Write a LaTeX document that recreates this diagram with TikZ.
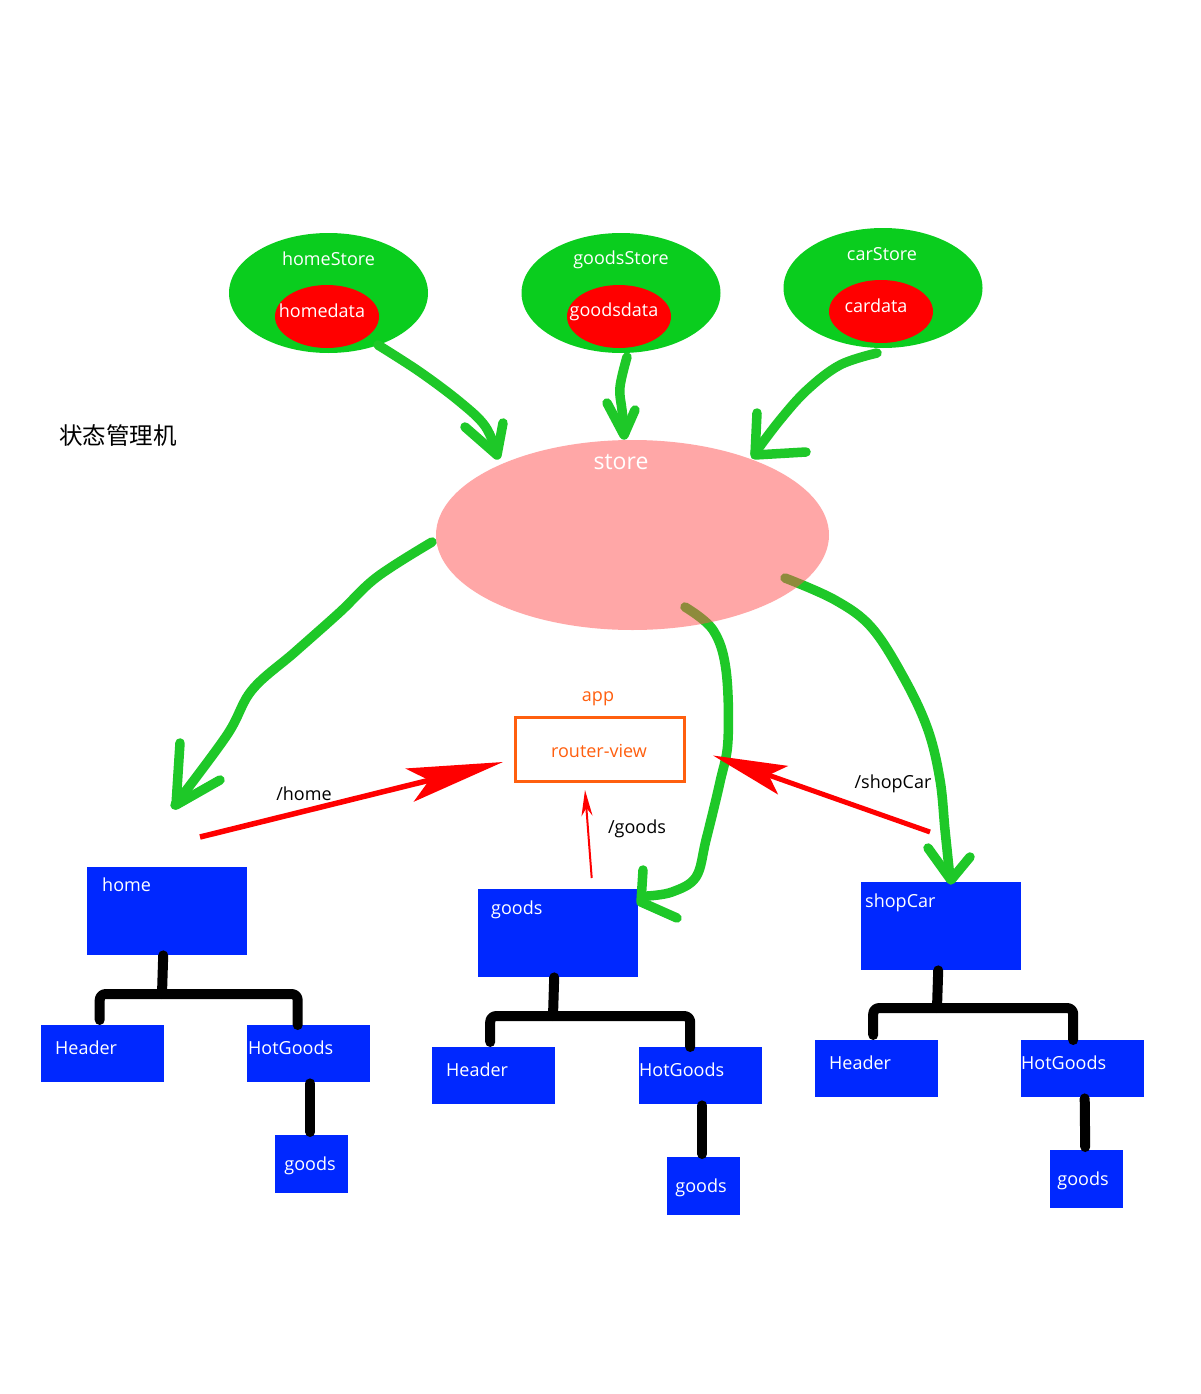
\documentclass[tikz,border=0pt]{standalone}
\usepackage{fontspec}
\setmainfont{Open Sans}
\newfontfamily\cjk{Noto Sans CJK SC}
\usetikzlibrary{shapes.geometric,arrows.meta}
\definecolor{gEll}{RGB}{10,205,30}
\definecolor{gArr}{RGB}{30,200,40}
\definecolor{bBox}{RGB}{0,40,255}
\definecolor{orng}{RGB}{255,95,15}
\definecolor{storeC}{RGB}{255,80,80}
\begin{document}
\begin{tikzpicture}[x=1pt,y=-1pt,
  txt/.style={font=\fontsize{18}{22}\selectfont, inner sep=0pt},
  wtxt/.style={txt, text=white},
  outerEll/.style={ellipse, fill=gEll, inner sep=0pt, minimum width=199pt, minimum height=120pt},
  dataEll/.style={ellipse, fill=red, inner sep=0pt, minimum width=104pt, minimum height=63pt},
  bluebox/.style={rectangle, fill=bBox, inner sep=0pt, anchor=north west},
  bigbox/.style={bluebox, minimum width=160pt, minimum height=88pt},
  midbox/.style={bluebox, minimum width=123pt, minimum height=57pt},
  smallbox/.style={bluebox, minimum width=73pt, minimum height=58pt},
  tree/.style={line width=10pt, line cap=round, line join=round, rounded corners=6pt, black},
  garr/.style={line width=9.5pt, draw=gArr, line cap=round, line join=round},
  rarr/.style={draw=red, line width=5.5pt},
]
\fill[white] (0,0) rectangle (1200,1394);
\useasboundingbox (0,0) rectangle (1200,1394);

% ---- stores ----
\node[outerEll] (hs) at (328.5,293) {};
\node[dataEll] (hd) at (327,316.5) {};
\node[wtxt] (hsT) at (328.5,259) {homeStore};
\node[wtxt] (hdT) at (322,311) {homedata};

\node[outerEll] (gs) at (621,293) {};
\node[dataEll] (gd) at (619,316.5) {};
\node[wtxt] (gsT) at (621,260) {goodsStore};
\node[wtxt] (gdT) at (614,312) {goodsdata};

\node[outerEll] (cs) at (883,288) {};
\node[dataEll] (cd) at (881,311.5) {};
\node[wtxt] (csT) at (882,254) {carStore};
\node[wtxt] (cdT) at (876,306) {cardata};

\node[font=\cjk\fontsize{23.5}{26}\selectfont, inner sep=0pt] (title) at (118,436) {状态管理机};

% ---- blue boxes ----
\node[bigbox] (home) at (87,867) {};
\node[midbox] (hdL) at (41,1025) {};
\node[midbox] (hotL) at (247,1025) {};
\node[smallbox] (gdL) at (275,1135) {};

\node[bigbox] (goodsM) at (478,889) {};
\node[midbox] (hdM) at (432,1047) {};
\node[midbox] (hotM) at (639,1047) {};
\node[smallbox] (gdM) at (667,1157) {};

\node[bigbox] (shop) at (861,882) {};
\node[midbox] (hdR) at (815,1040) {};
\node[midbox] (hotR) at (1021,1040) {};
\node[smallbox] (gdR) at (1050,1150) {};

% ---- green hand-drawn arrows ----
\draw[garr] plot[smooth, tension=0.6] coordinates {(378,345) (420,372) (460,402) (485,426) (497,453)};
\draw[garr] (465,427) -- (497,455) -- (503,423);

\draw[garr] plot[smooth, tension=0.6] coordinates {(627,357) (620,387) (622,410) (625,433)};
\draw[garr] (607,403) -- (624,435) -- (635,410);

\draw[garr] plot[smooth, tension=0.6] coordinates {(877,353) (840,365) (807,390) (780,420) (755,453)};
\draw[garr] (757,413) -- (755,455) -- (806,452);

\draw[garr] plot[smooth, tension=0.6] coordinates {(432,542) (377,577) (340,612) (295,652) (252,690) (227,735) (175,805)};
\draw[garr] (180,743) -- (176,805) -- (220,780);

\draw[garr] plot[smooth, tension=0.6] coordinates {(685,607) (713,630) (726,670) (728,740) (720,782) (706,840) (696,877) (672,892) (647,896)};
\draw[garr] (643,870) -- (641,902) -- (677,918);

\draw[garr] plot[smooth, tension=0.6] coordinates {(785,578) (835,600) (872,628) (905,680) (928,730) (940,780) (945,830) (950,878)};
\draw[garr] (928,848) -- (951,880) -- (970,857);

% ---- store ----
\node[ellipse, fill=storeC, fill opacity=0.5, inner sep=0pt, minimum width=393pt, minimum height=190pt] (store) at (632.5,535) {};
\node[wtxt, font=\fontsize{23}{27}\selectfont] (storeT) at (621,462) {store};

% ---- app / router-view ----
\node[draw=orng, line width=3pt, minimum width=169pt, minimum height=64pt, inner sep=0pt] (rv) at (600,749.5) {};
\node[txt, text=orng] (rvT) at (599,751) {router-view};
\node[txt, text=orng] (appT) at (598,699) {app};

% ---- box texts ----
\node[wtxt, anchor=mid west] at (102,889) {home};
\node[wtxt, anchor=mid west] at (55,1052) {Header};
\node[wtxt, anchor=mid west] at (248,1052) {HotGoods};
\node[wtxt, anchor=mid] at (310,1168) {goods};

\node[wtxt, anchor=mid west] at (491,912) {goods};
\node[wtxt, anchor=mid west] at (446,1074) {Header};
\node[wtxt, anchor=mid west] at (639,1074) {HotGoods};
\node[wtxt, anchor=mid] at (701,1190) {goods};

\node[wtxt, anchor=mid west] at (865,905) {shopCar};
\node[wtxt, anchor=mid west] at (829,1067) {Header};
\node[wtxt, anchor=mid west] at (1021,1067) {HotGoods};
\node[wtxt, anchor=mid] at (1083,1183) {goods};

% ---- tree connectors ----
\coordinate (jL) at (162,994);
\coordinate (jM) at (553,1016);
\coordinate (jR) at (937,1008);
\draw[tree] ([xshift=-4pt]home.south) -- (jL);
\draw[tree] ([shift={(-3pt,5pt)}]hdL.north) |- (jL) -| ([xshift=-11pt]hotL.north);
\draw[tree] ([xshift=1.5pt,yshift=-1pt]hotL.south) -- ([xshift=-1.5pt,yshift=3pt]gdL.north);

\draw[tree] ([xshift=-4pt]goodsM.south) -- (jM);
\draw[tree] ([shift={(-3.5pt,5pt)}]hdM.north) |- (jM) -| ([xshift=-10.5pt]hotM.north);
\draw[tree] ([xshift=1.5pt,yshift=-1pt]hotM.south) -- ([xshift=-1.5pt,yshift=3pt]gdM.north);

\draw[tree] ([xshift=-3pt]shop.south) -- (jR);
\draw[tree] ([shift={(-3.5pt,5pt)}]hdR.north) |- (jR) -| ([xshift=-9.5pt]hotR.north);
\draw[tree] ([xshift=2pt,yshift=-1pt]hotR.south) -- ([xshift=-1.5pt,yshift=3pt]gdR.north);

% ---- red route arrows ----
\coordinate (homeTail) at (200,837);
\coordinate (shopTail) at (930,832);
\draw[rarr, -{Stealth[length=96pt,width=34pt,inset=20pt]}] (homeTail) -- ([shift={(-11pt,-12.5pt)}]rv.west);
\draw[rarr, line width=5pt, -{Stealth[length=74pt,width=30pt,inset=15pt]}] (shopTail) -- ([shift={(27pt,-6pt)}]rv.east);
\draw[draw=red, line width=2pt, -{Stealth[length=26pt,width=11pt,inset=8pt]}] ([shift={(33.5pt,11pt)}]goodsM.north) -- ([shift={(-15pt,-7pt)}]rv.south);

\node[txt] (lHome) at (304,794) {/home};
\node[txt] (lGoods) at (637,829) {/goods};
\node[txt] (lShop) at (893,784) {/shopCar};
\end{tikzpicture}
\end{document}
